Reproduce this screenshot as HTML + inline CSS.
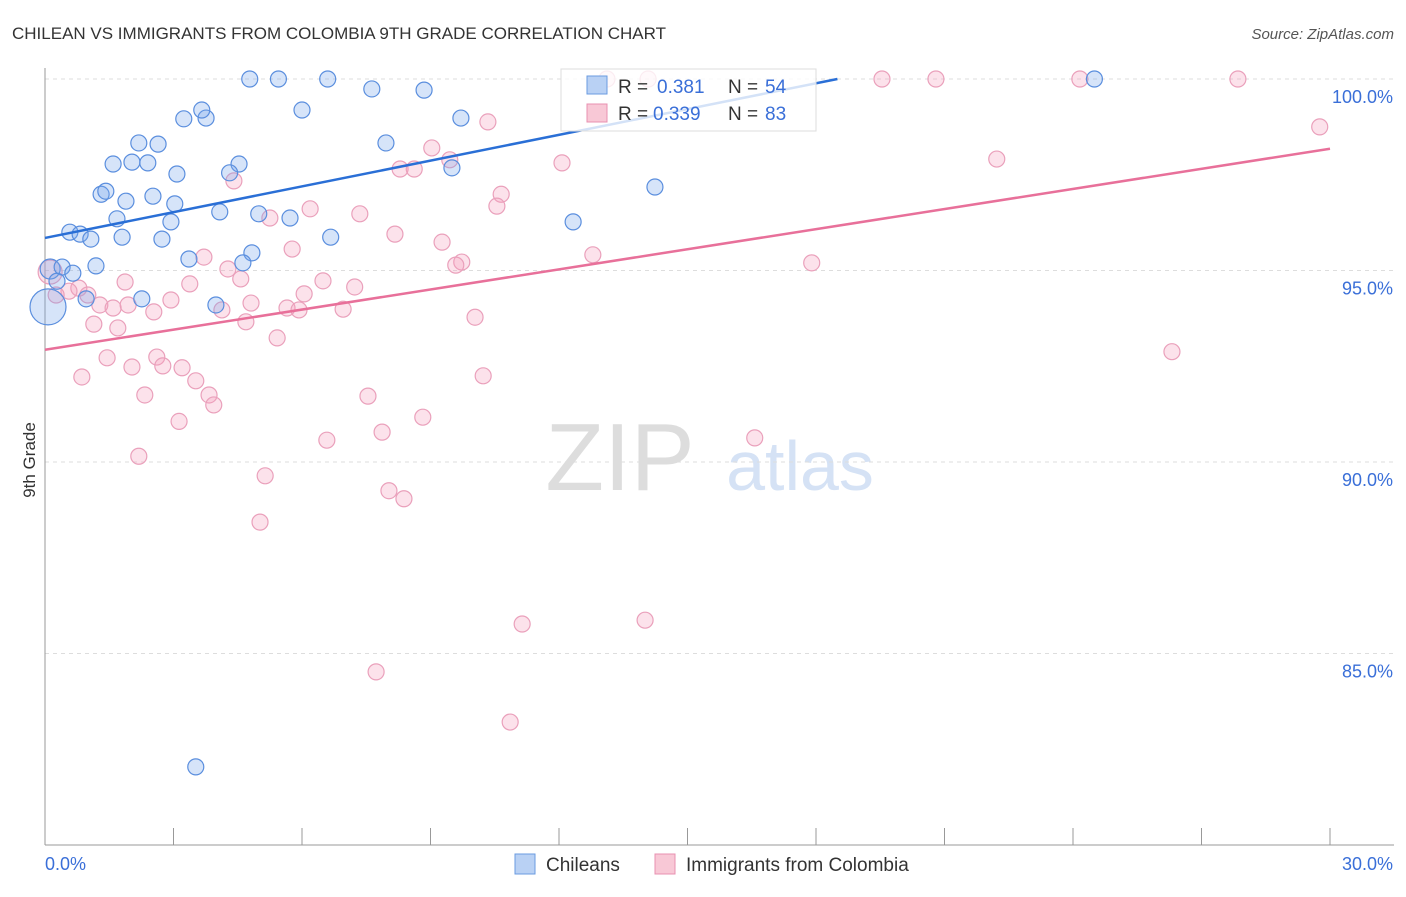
<!DOCTYPE html>
<html><head><meta charset="utf-8"><style>
body{margin:0;background:#fff;font-family:"Liberation Sans",sans-serif}
svg text{font-family:"Liberation Sans",sans-serif}
</style></head><body>
<svg id="c" width="1406" height="892" xmlns="http://www.w3.org/2000/svg">
<text x="12" y="39" font-size="17" fill="#333">CHILEAN VS IMMIGRANTS FROM COLOMBIA 9TH GRADE CORRELATION CHART</text>
<text x="1394" y="39" font-size="15" fill="#555" text-anchor="end" font-style="italic">Source: ZipAtlas.com</text>
<text x="35" y="460" font-size="17" fill="#333" transform="rotate(-90 35 460)" text-anchor="middle">9th Grade</text>
<text x="620" y="490" font-size="96" fill="#ddd" font-family="Liberation Serif" text-anchor="middle">ZIP</text>
<text x="800" y="490" font-size="70" fill="#d5e2f5" text-anchor="middle">atlas</text>
<g id="grid"></g><g id="axes"></g><g id="pts"></g><g id="lines"></g>
<g>
<rect x="561" y="69" width="255" height="62" fill="rgba(255,255,255,0.8)" stroke="#ddd"/>
<rect x="587" y="76" width="20" height="18" fill="#b9d1f4" stroke="#6a9be0"/>
<text x="618" y="93" font-size="19" fill="#333">R =</text>
<text x="657" y="93" font-size="19" fill="#3a6fd8">0.381</text>
<text x="728" y="93" font-size="19" fill="#333">N =</text>
<text x="765" y="93" font-size="19" fill="#3a6fd8">54</text>
<rect x="587" y="104" width="20" height="18" fill="#f8c8d6" stroke="#e890b0"/>
<text x="618" y="120" font-size="19" fill="#333">R =</text>
<text x="653" y="120" font-size="19" fill="#3a6fd8">0.339</text>
<text x="728" y="120" font-size="19" fill="#333">N =</text>
<text x="765" y="120" font-size="19" fill="#3a6fd8">83</text>
</g>
<g>
<rect x="515" y="854" width="20" height="20" fill="#b9d1f4" stroke="#6a9be0"/>
<text x="546" y="871" font-size="19" fill="#333">Chileans</text>
<rect x="655" y="854" width="20" height="20" fill="#f8c8d6" stroke="#e890b0"/>
<text x="686" y="871" font-size="19" fill="#333">Immigrants from Colombia</text>
</g>
</svg>
<script>
const yTicks=[100,95,90,85];
const yTickLabels=["100.0%","95.0%","90.0%","85.0%"];
const xEnds=["0.0%","30.0%"];
const blueX=[4.78,5.45,6.6,7.63,8.85,24.5,3.76,3.66,6.0,3.24,9.71,2.19,2.64,7.96,1.59,2.03,2.4,4.53,4.31,3.08,9.5,1.31,1.42,1.89,2.52,3.03,14.24,4.08,4.99,5.72,1.68,2.94,12.33,0.58,0.82,1.07,1.8,2.73,6.67,4.83,3.36,4.62,1.19,0.12,0.4,0.65,0.28,0.96,2.26,3.99,0.07,3.52];
const blueY=[100,100,100,99.74,99.71,100,98.98,99.19,99.19,98.96,98.98,98.33,98.3,98.33,97.78,97.83,97.81,97.78,97.55,97.52,97.68,96.99,97.07,96.81,96.94,96.74,97.18,96.53,96.48,96.37,96.35,96.27,96.27,96.0,95.95,95.82,95.87,95.82,95.87,95.46,95.3,95.2,95.12,95.04,95.09,94.93,94.72,94.26,94.26,94.1,94.05,82.04];
const blueR=[8,8,8,8,8,8,8,8,8,8,8,8,8,8,8,8,8,8,8,8,8,8,8,8,8,8,8,8,8,8,8,8,8,8,8,8,8,8,8,8,8,8,8,10,8,8,8,8,8,8,18,8];
const pinkX=[13.12,14.08,19.54,20.8,24.16,27.85,29.76,10.34,9.03,9.45,12.07,22.22,8.29,8.62,4.41,10.65,10.55,6.19,7.35,5.25,8.17,9.27,5.77,3.71,12.79,9.73,9.59,17.9,4.27,4.57,6.49,7.23,3.38,1.87,0.79,0.56,1.0,0.26,1.28,1.59,2.54,1.94,2.94,4.81,4.13,5.65,5.93,6.05,6.96,10.04,1.14,1.7,4.69,5.42,1.45,2.61,2.75,2.03,3.2,0.86,3.52,10.23,2.33,3.83,3.94,7.54,3.13,8.82,7.87,6.58,16.57,2.19,5.14,8.03,8.38,5.02,26.31,11.14,14.01,7.73,10.86,0.12];
const pinkY=[100,100,100,100,100,100,98.75,98.88,98.2,97.89,97.81,97.91,97.65,97.65,97.34,96.99,96.68,96.61,96.48,96.37,95.95,95.74,95.56,95.35,95.41,95.22,95.14,95.2,95.04,94.78,94.73,94.57,94.65,94.7,94.54,94.46,94.36,94.36,94.1,94.02,93.92,94.1,94.23,94.15,93.97,94.02,93.97,94.39,93.99,93.78,93.6,93.5,93.66,93.24,92.72,92.74,92.51,92.48,92.46,92.22,92.12,92.25,91.75,91.75,91.49,91.72,91.06,91.17,90.78,90.57,90.63,90.15,89.64,89.25,89.04,88.43,92.88,85.77,85.87,84.52,83.21,94.96];
const pinkR=[8,8,8,8,8,8,8,8,8,8,8,8,8,8,8,8,8,8,8,8,8,8,8,8,8,8,8,8,8,8,8,8,8,8,8,8,8,8,8,8,8,8,8,8,8,8,8,8,8,8,8,8,8,8,8,8,8,8,8,8,8,8,8,8,8,8,8,8,8,8,8,8,8,8,8,8,8,8,8,8,8,12];
const blueLine=[0,95.85,18.5,100];
const pinkLine=[0,92.93,30,98.18];
const X=v=>45+v/30*1285, Y=v=>79+(100-v)*38.3;
const NS="http://www.w3.org/2000/svg";
function mk(t,a,p){const e=document.createElementNS(NS,t);for(const k in a)e.setAttribute(k,a[k]);document.getElementById(p).appendChild(e);return e;}
yTicks.forEach((t,i)=>{
 const l=mk('line',{x1:45,x2:1394,y1:Y(t),y2:Y(t),stroke:'#ddd','stroke-dasharray':'4 4'},'grid');
 
 
 const tx=mk('text',{x:1393,y:Y(t)+24,'font-size':18,fill:'#3a6fd8','text-anchor':'end'},'axes');tx.textContent=yTickLabels[i];
 
 
});
mk('line',{x1:45,x2:45,y1:68,y2:845,stroke:'#999'},'axes');
mk('line',{x1:45,x2:1394,y1:845,y2:845,stroke:'#999'},'axes');
for(let i=0;i<=10;i++){mk('line',{x1:X(i*3),x2:X(i*3),y1:828,y2:845,stroke:'#999'},'axes');}
[[X(0),'start',xEnds[0]],[X(30)+63,'end',xEnds[1]]].forEach(d=>{const t=mk('text',{x:d[0],y:870,'font-size':18,fill:'#3a6fd8','text-anchor':d[1]},'axes');t.textContent=d[2];
 
 });
pinkX.forEach((v,i)=>{const c=mk('circle',{cx:X(v),cy:Y(pinkY[i]),r:pinkR[i],fill:'rgba(244,160,188,0.3)',stroke:'#eaa0bb','stroke-width':1.2},'pts');
 
 });
blueX.forEach((v,i)=>{const c=mk('circle',{cx:X(v),cy:Y(blueY[i]),r:blueR[i],fill:'rgba(120,165,235,0.3)',stroke:'#5a8ede','stroke-width':1.2},'pts');
 
 });
const bl=mk('line',{x1:X(blueLine[0]),y1:Y(blueLine[1]),x2:X(blueLine[2]),y2:Y(blueLine[3]),stroke:'#2a6fd6','stroke-width':2.5},'lines');


const pl=mk('line',{x1:X(pinkLine[0]),y1:Y(pinkLine[1]),x2:X(pinkLine[2]),y2:Y(pinkLine[3]),stroke:'#e8709a','stroke-width':2.5},'lines');


</script>
</body></html>
